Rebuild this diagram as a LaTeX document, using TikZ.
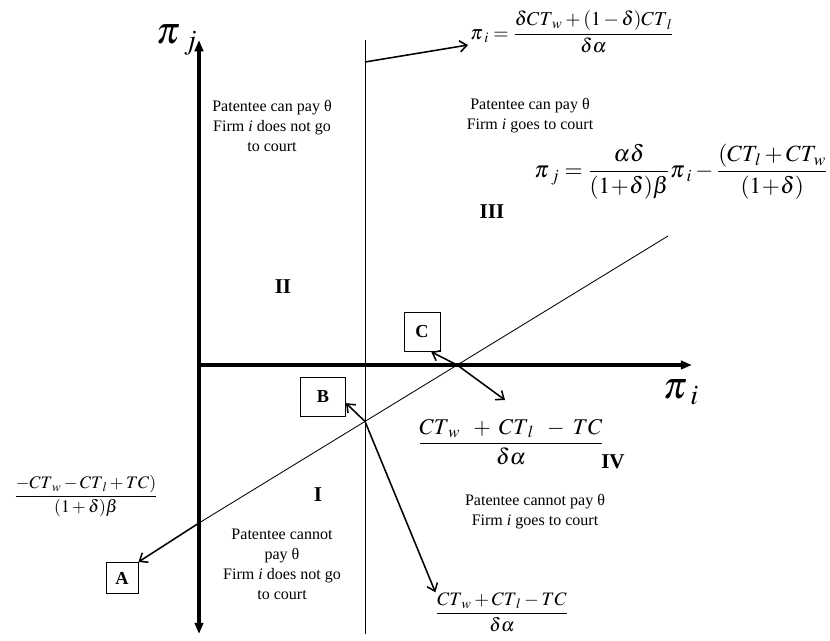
\documentclass[tikz,border=0pt]{standalone}
\usepackage{amsmath}
\usepackage{mathptmx}
\usepackage[no-math]{fontspec}
\setmainfont{Liberation Serif}
\usetikzlibrary{arrows.meta}

\begin{document}
\begin{tikzpicture}[x=0.025cm, y=-0.025cm, >={Straight Barb[length=5pt,width=8pt]},
  font=\fontsize{11.4}{14.2}\selectfont,
  axtip/.tip={Triangle[length=8pt,width=6pt]},
  axis/.style={line width=2.2pt},
  thin/.style={line width=0.6pt},
  sig/.style={->, line width=1.1pt},
  lab/.style={draw, line width=0.6pt, inner sep=0pt, font=\bfseries\fontsize{13}{15}\selectfont},
  reg/.style={align=center, inner sep=0pt},
  num/.style={inner sep=0pt, font=\bfseries\fontsize{15}{17}\selectfont},
  eqn/.style={inner sep=0pt}]

  \useasboundingbox (0,0) rectangle (830,640);

  % axes and the two boundary lines
  \coordinate (O)    at (199,365);
  \coordinate (xend) at (692,365);
  \coordinate (ytop) at (199,40);
  \coordinate (ybot) at (199,634);
  \coordinate (vtop) at (365,40);
  \coordinate (vbot) at (365,634);
  \coordinate (dtop) at (668,236);
  \coordinate (pA)   at (199,523);
  \coordinate (pB) at (intersection of dtop--pA and vtop--vbot);
  \coordinate (pC) at (intersection of dtop--pA and O--xend);

  \draw[axis, -axtip] (O) -- (xend);
  \draw[axis, axtip-axtip] (ybot) -- (ytop);
  \draw[thin] (vtop) -- (vbot);
  \draw[thin] (dtop) -- (pA);

  \node[eqn] (piy) at (177,40) {\fontsize{27}{29}\selectfont$\pi_{\;j}$};
  \node[eqn] (pix) at (681,392) {\fontsize{27}{29}\selectfont$\pi_{\;i}$};

  % boxed points
  \node[lab, minimum width=0.8cm, minimum height=0.78cm]    (A) at (122,578) {A};
  \node[lab, minimum width=1.125cm, minimum height=0.975cm] (B) at (323,397) {B};
  \node[lab, minimum width=0.9cm, minimum height=0.975cm]   (C) at (422,332) {C};

  % formulas
  \node[eqn, anchor=west] (tfrac) at (470,32)
    {\fontsize{14}{16}\selectfont$\pi_{\;i}=\dfrac{\delta CT_{\;w}+(1-\delta)CT_{\;l}}{\delta\alpha}$};
  \node[eqn, anchor=east] (line) at (828,172)
    {\fontsize{16.5}{18}\selectfont$\pi_{\;j}=\dfrac{\alpha\delta}{(1\!+\!\delta)\beta}\pi_{\;i}-\dfrac{(CT_{\,l}+CT_{\,w}}{(1\!+\!\delta)}$};
  \node[eqn] (mfrac) at (511,442)
    {\fontsize{16}{18}\selectfont$\dfrac{CT_{\;w}\;\;+\;CT_{\;l}\;\;-\;TC}{\delta\alpha}$};
  \node[eqn] (bfrac) at (502,612)
    {\fontsize{13.5}{15}\selectfont$\dfrac{CT_{\;w}+CT_{\;l}-TC}{\delta\alpha}$};
  \node[eqn] (lfrac) at (86,496)
    {\fontsize{12.5}{14}\selectfont$\dfrac{-CT_{\;w}-CT_{\;l}+TC)}{(1+\delta)\beta}$};

  % regions
  \node[reg] (r2txt) at (272,126) {Patentee can pay θ\\Firm \textit{i} does not go\\to court};
  \node[reg] (r3txt) at (530,116) {Patentee can pay θ\\Firm \textit{i} goes to court};
  \node[reg] (r4txt) at (535,512) {Patentee cannot pay θ\\Firm \textit{i} goes to court};
  \node[reg] (r1txt) at (282,564) {Patentee cannot\\pay θ\\Firm \textit{i} does not go\\to court};
  \node[num] (II)  at (283,287) {II};
  \node[num] (III) at (492,212) {III};
  \node[num] (I)   at (318,495) {I};
  \node[num] (IV)  at (613,462) {IV};

  % pointers
  \coordinate (vt)   at (365,62);
  \coordinate (tend) at (468,45);
  \coordinate (cend) at (505,400);
  \draw[sig] (vt) -- (tend);
  \draw[sig] (pA) -- (A.north east);
  \draw[sig] (pB) -- (B.-15);
  \draw[sig] (pB) -- (bfrac.north west);
  \draw[sig] (pC) -- (C.-65);
  \draw[sig] (pC) -- (cend);
\end{tikzpicture}
\end{document}
